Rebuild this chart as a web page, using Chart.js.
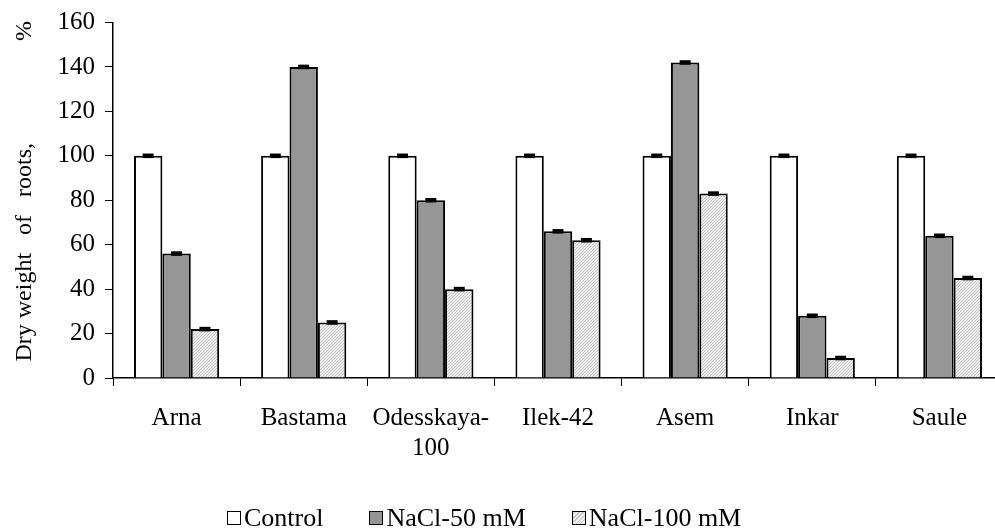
<!DOCTYPE html>
<html>
<head>
<meta charset="utf-8">
<script src="https://cdn.jsdelivr.net/npm/chart.js@4.4.1/dist/chart.umd.min.js"></script>
<style>
  html, body { margin: 0; padding: 0; background: #fff; overflow: hidden; width: 995px; height: 531px; }
  #wrap { position: absolute; left: 0; top: 0; width: 1010px; height: 531px; }
  #legend { position: absolute; top: 503px; left: 227px; display: flex; align-items: center;
            font-family: "Liberation Serif", "Times New Roman", serif; font-size: 26px; color: #000; white-space: nowrap; }
  .item { display: flex; align-items: center; margin-right: 46px; }
  .box { width: 12px; height: 12px; border: 1.5px solid #000; margin-right: 3px; box-sizing: content-box; }
</style>
</head>
<body>
<div id="wrap"><canvas id="c" width="1010" height="531"></canvas></div>
<div id="legend"></div>
<script>
// ---- data ----
const categories = ['Arna', 'Bastama', ['Odesskaya-', '100'], 'Ilek-42', 'Asem', 'Inkar', 'Saule'];
const seriesNames = ['Control', 'NaCl-50 mM', 'NaCl-100 mM'];
const controlValues = [100, 100, 100, 100, 100, 100, 100];
const nacl50Values = [56, 140, 80, 66, 142, 28, 64];
const nacl100Values = [22, 25, 40, 62, 83, 9, 45];
const controlErr = [0.8, 0.8, 0.8, 0.8, 0.8, 0.8, 0.8];
const nacl50Err = [0.8, 0.8, 0.8, 0.8, 0.8, 0.8, 0.8];
const nacl100Err = [0.8, 0.8, 0.8, 0.8, 0.8, 0.8, 0.8];
const yTicks = [0, 20, 40, 60, 80, 100, 120, 140, 160];
const yTitle = '   Dry weight   of   roots,                 %';

// ---- pattern for NaCl-100 ----
function makePattern() {
  const p = document.createElement('canvas');
  p.width = 3; p.height = 3;
  const g = p.getContext('2d');
  g.fillStyle = '#eeeeee';
  g.fillRect(0, 0, 3, 3);
  g.fillStyle = '#c4c4c4';
  for (let i = 0; i < 3; i++) g.fillRect(i, 2 - i, 1, 1);
  return document.getElementById('c').getContext('2d').createPattern(p, 'repeat');
}
const hatch = makePattern();

const FONT = { family: '"Liberation Serif", "Times New Roman", serif', size: 25 };
const YFONT = { family: '"Liberation Serif", "Times New Roman", serif', size: 25, lineHeight: 1.0 };
const TITLE_FONT = { family: '"Liberation Serif", "Times New Roman", serif', size: 24 };

const errorBars = {
  id: 'errorBars',
  afterDatasetsDraw(chart) {
    const ctx = chart.ctx;
    const ys = chart.scales.y;
    ctx.save();
    ctx.fillStyle = '#000';
    chart.data.datasets.forEach((ds, di) => {
      const meta = chart.getDatasetMeta(di);
      meta.data.forEach((bar, i) => {
        const v = ds.data[i], e = ds.errors[i];
        const yTop = ys.getPixelForValue(v + e);
        const yBot = ys.getPixelForValue(v - e);
        ctx.fillRect(bar.x - 5.5, yTop - 0.5, 11, Math.max(4, yBot - yTop + 1));
      });
    });
    ctx.restore();
  }
};

const ds = (label, data, errors, bg) => ({
  label, data, errors, backgroundColor: bg, borderColor: '#000', borderWidth: 2,
  borderSkipped: 'start', barPercentage: 1.0, categoryPercentage: 0.67
});

new Chart(document.getElementById('c'), {
  type: 'bar',
  data: {
    labels: categories,
    datasets: [
      ds(seriesNames[0], controlValues, controlErr, '#ffffff'),
      ds(seriesNames[1], nacl50Values, nacl50Err, '#969696'),
      ds(seriesNames[2], nacl100Values, nacl100Err, hatch)
    ]
  },
  options: {
    responsive: false,
    animation: false,
    layout: { padding: { top: 14, right: 7, left: 0, bottom: 0 } },
    plugins: { legend: { display: false }, tooltip: { enabled: false } },
    scales: {
      x: {
        grid: { display: true, drawOnChartArea: false, drawTicks: true, tickLength: 8, color: '#000', lineWidth: 1, offset: true },
        border: { color: '#000', width: 1.5 },
        ticks: { font: FONT, color: '#000', padding: 17, maxRotation: 0, autoSkip: false },
        afterFit(s) { s.height = 531 - 378; }
      },
      y: {
        min: 0, max: 160,
        afterBuildTicks(s) { s.ticks = yTicks.map(v => ({ value: v })); },
        grid: { display: true, drawOnChartArea: false, drawTicks: true, tickLength: 8, color: '#000', lineWidth: 1 },
        border: { color: '#000', width: 1.5 },
        ticks: { font: YFONT, color: '#000', padding: 10 },
        title: { display: true, text: yTitle, font: TITLE_FONT, color: '#000', padding: { top: 10, bottom: 0 } },
        afterFit(s) { s.width = 113; }
      }
    }
  },
  plugins: [errorBars]
});

// ---- HTML legend ----
const legendColors = ['#ffffff', '#969696', 'repeating-linear-gradient(-45deg, #c4c4c4 0 1px, #eeeeee 1px 3px)'];
const lg = document.getElementById('legend');
seriesNames.forEach((n, i) => {
  const it = document.createElement('span'); it.className = 'item';
  const b = document.createElement('span'); b.className = 'box'; b.style.background = legendColors[i];
  const t = document.createElement('span'); t.textContent = n;
  it.appendChild(b); it.appendChild(t); lg.appendChild(it);
});
</script>
</body>
</html>
